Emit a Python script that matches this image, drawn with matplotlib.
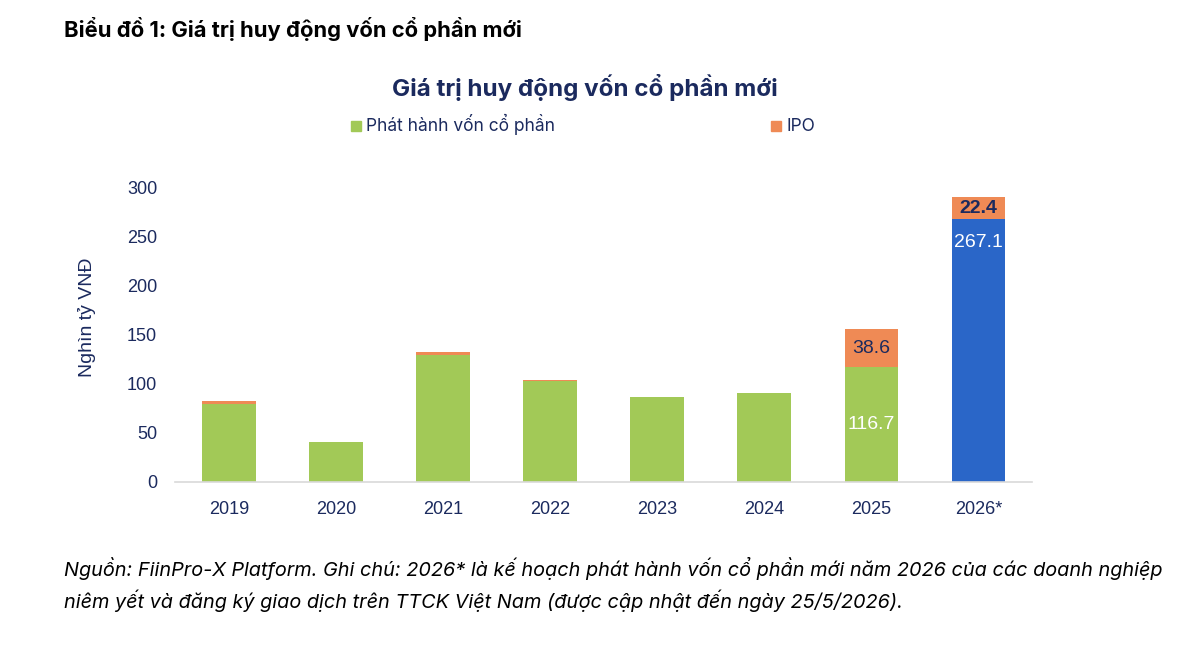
import numpy as np
import matplotlib.pyplot as plt

plt.rcParams['font.family'] = ['Liberation Sans', 'DejaVu Sans']
txt_font = ['Inter', 'DejaVu Sans']

years = ['2019', '2020', '2021', '2022', '2023', '2024', '2025', '2026*']
issue = [79.5, 40.8, 129.0, 103.2, 86.8, 90.3, 116.7, 267.1]
ipo = [2.6, 0.0, 3.5, 0.8, 0.0, 0.3, 38.6, 22.4]

navy = '#1B2A5E'
green = '#A2C957'
orange = '#EF8A55'
blue = '#2A66C8'

fig = plt.figure(figsize=(12, 6.54), dpi=100)
ax = fig.add_axes([0.146, 0.263, 0.714, 0.451])

x = np.arange(len(years))
issue_colors = [green] * 7 + [blue]
ax.bar(x, issue, width=0.5, color=issue_colors, edgecolor='none')
ax.bar(x, ipo, width=0.5, bottom=issue, color=orange, edgecolor='none')

ax.set_xlim(-0.5, len(years) - 0.5)
ax.set_ylim(0, 300)
ax.set_yticks(range(0, 301, 50))
ax.set_xticks(x)
ax.set_xticklabels(years)
ax.tick_params(axis='both', length=0, labelsize=13, colors=navy)
ax.tick_params(axis='y', pad=13)
ax.tick_params(axis='x', pad=14)
for s in ['top', 'right', 'left']:
    ax.spines[s].set_visible(False)
ax.spines['bottom'].set_color('#D9D9D9')
ax.spines['bottom'].set_linewidth(1.2)

ax.set_ylabel('Nghìn tỷ VNĐ', fontsize=14, color=navy)
ax.yaxis.set_label_coords(-0.092, 0.56)

# data labels
ax.text(6, issue[6] / 2, f'{issue[6]:.1f}', ha='center', va='center', color='white', fontsize=14)
ax.text(6, issue[6] + ipo[6] / 2, f'{ipo[6]:.1f}', ha='center', va='center', color=navy, fontsize=14)
ax.text(7, issue[7] - 24, f'{issue[7]:.1f}', ha='center', va='center', color='white', fontsize=14)
ax.text(7, issue[7] + ipo[7] / 2, f'{ipo[7]:.1f}', ha='center', va='center', color=navy,
        fontsize=14, fontweight='bold')

fig.text(0.053, 0.955, 'Biểu đồ 1: Giá trị huy động vốn cổ phần mới', fontsize=15.8,
         fontweight='bold', color='black', va='center', family=txt_font)
fig.text(0.487, 0.866, 'Giá trị huy động vốn cổ phần mới', fontsize=17.4, fontweight='bold',
         color=navy, ha='center', va='center', family=txt_font)

# legend
fig.patches.append(plt.Rectangle((0.2925, 0.800), 0.0083, 0.0153, transform=fig.transFigure,
                                 color=green))
fig.text(0.305, 0.809, 'Phát hành vốn cổ phần', fontsize=12.5, color=navy, va='center',
         family=txt_font)
fig.patches.append(plt.Rectangle((0.6425, 0.800), 0.0083, 0.0153, transform=fig.transFigure,
                                 color=orange))
fig.text(0.655, 0.807, 'IPO', fontsize=12.5, color=navy, va='center', family=txt_font)

fig.text(0.053, 0.130, 'Nguồn: FiinPro-X Platform. Ghi chú: 2026* là kế hoạch phát hành vốn cổ phần mới năm 2026 của các doanh nghiệp',
         fontsize=14.3, style='italic', color='black', va='center', family=txt_font)
fig.text(0.053, 0.082, 'niêm yết và đăng ký giao dịch trên TTCK Việt Nam (được cập nhật đến ngày 25/5/2026).',
         fontsize=14.3, style='italic', color='black', va='center', family=txt_font)

fig.savefig('out.png', dpi=100, facecolor='white')
